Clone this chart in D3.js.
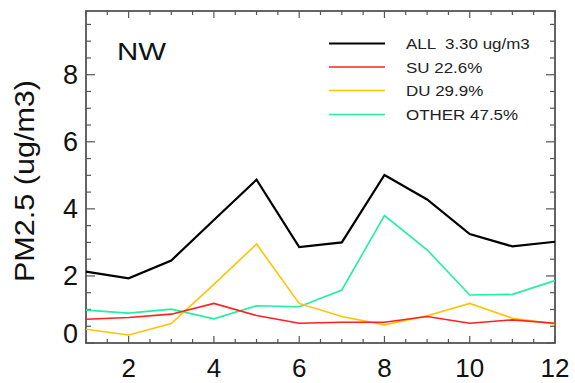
<!DOCTYPE html>
<html>
<head>
<meta charset="utf-8">
<script src="https://cdn.jsdelivr.net/npm/d3@7"></script>
<style>
  body { margin: 0; background: #fff; }
  svg { font-family: "Liberation Sans", Arial, sans-serif; }
</style>
</head>
<body>
<svg id="chart" width="575" height="383"></svg>
<script>
// monthly values
const months = [1, 2, 3, 4, 5, 6, 7, 8, 9, 10, 11, 12];
const allValues = [2.13, 1.93, 2.46, 3.67, 4.87, 2.86, 3.0, 5.01, 4.28, 3.25, 2.88, 3.02];
const suValues = [0.71, 0.76, 0.86, 1.18, 0.82, 0.59, 0.62, 0.62, 0.79, 0.59, 0.69, 0.59];
const duValues = [0.41, 0.24, 0.58, 1.75, 2.95, 1.18, 0.79, 0.54, 0.81, 1.18, 0.74, 0.57];
const otherValues = [0.98, 0.89, 1.01, 0.72, 1.11, 1.08, 1.58, 3.8, 2.78, 1.43, 1.45, 1.86];
const seriesNames = ["ALL  3.30 ug/m3", "SU 22.6%", "DU 29.9%", "OTHER 47.5%"];
const xTicks = [2, 4, 6, 8, 10, 12];
const yTicks = [0, 2, 4, 6, 8];

const series = [
  { name: seriesNames[0], values: allValues, color: "#000000", width: 2.2 },
  { name: seriesNames[1], values: suValues, color: "#ff2020", width: 1.6 },
  { name: seriesNames[2], values: duValues, color: "#ffc400", width: 1.6 },
  { name: seriesNames[3], values: otherValues, color: "#22f0a0", width: 1.6 }
];

const plotLeft = 86, plotRight = 555, plotTop = 11, plotBottom = 343;
const svg = d3.select("#chart");

const x = d3.scaleLinear().domain([1, 12]).range([plotLeft, plotRight]);
const y = d3.scaleLinear().domain([0, 9.9]).range([plotBottom, plotTop]);

const frame = "#555";

// minor ticks every 0.5
const xMinor = d3.range(1, 12.01, 0.5);
const yMinor = d3.range(0, 9.9, 0.5);

const axisG = svg.append("g").attr("stroke", frame).attr("stroke-width", 1.2);

axisG.selectAll(".xb").data(xMinor).enter().append("line")
  .attr("x1", d => x(d)).attr("x2", d => x(d))
  .attr("y1", plotBottom).attr("y2", d => plotBottom - (d % 2 === 0 ? 7 : 4));
axisG.selectAll(".xt").data(xMinor).enter().append("line")
  .attr("x1", d => x(d)).attr("x2", d => x(d))
  .attr("y1", plotTop).attr("y2", d => plotTop + (d % 2 === 0 ? 7 : 4));
axisG.selectAll(".yl").data(yMinor).enter().append("line")
  .attr("y1", d => y(d)).attr("y2", d => y(d))
  .attr("x1", plotLeft).attr("x2", d => plotLeft + (d % 2 === 0 ? 9 : 5));
axisG.selectAll(".yr").data(yMinor).enter().append("line")
  .attr("y1", d => y(d)).attr("y2", d => y(d))
  .attr("x1", plotRight).attr("x2", d => plotRight - (d % 2 === 0 ? 9 : 5));

svg.append("rect")
  .attr("x", plotLeft).attr("y", plotTop)
  .attr("width", plotRight - plotLeft).attr("height", plotBottom - plotTop)
  .attr("fill", "none").attr("stroke", frame).attr("stroke-width", 1.8);

// tick labels
svg.selectAll(".xlab").data(xTicks).enter().append("text")
  .attr("x", d => x(d)).attr("y", 377)
  .attr("text-anchor", "middle")
  .attr("font-size", 26).attr("fill", "#111")
  .text(d => d);

svg.selectAll(".ylab").data(yTicks).enter().append("text")
  .attr("x", 78).attr("y", d => y(d) + (d === 0 ? 0 : 9.5))
  .attr("text-anchor", "end")
  .attr("font-size", 27).attr("fill", "#111")
  .text(d => d);

svg.append("text")
  .attr("transform", "translate(34,181) rotate(-90)")
  .attr("text-anchor", "middle")
  .attr("font-size", 27).attr("fill", "#111")
  .attr("textLength", 202).attr("lengthAdjust", "spacingAndGlyphs")
  .text("PM2.5 (ug/m3)");

svg.append("text")
  .attr("x", 117).attr("y", 60)
  .attr("font-size", 24).attr("fill", "#111")
  .attr("textLength", 49).attr("lengthAdjust", "spacingAndGlyphs")
  .text("NW");

// lines
const line = d3.line().x((d, i) => x(months[i])).y(d => y(d));

svg.selectAll(".series").data(series.slice().reverse()).enter().append("path")
  .attr("d", d => line(d.values))
  .attr("fill", "none")
  .attr("stroke", d => d.color)
  .attr("stroke-width", d => d.width)
  .attr("stroke-linejoin", "miter");

// legend
const legY = [43.5, 67, 90.5, 114.5];
const leg = svg.selectAll(".leg").data(series).enter().append("g");
leg.append("line")
  .attr("x1", 329).attr("x2", 385)
  .attr("y1", (d, i) => legY[i]).attr("y2", (d, i) => legY[i])
  .attr("stroke", d => d.color).attr("stroke-width", d => d.width);
leg.append("text")
  .attr("x", 406).attr("y", (d, i) => legY[i] + 5.5)
  .attr("font-size", 15).attr("fill", "#222")
  .attr("xml:space", "preserve")
  .text(d => d.name)
  .each(function () {
    // the reference text is a little wider than the font
    const w = this.getComputedTextLength();
    d3.select(this).attr("textLength", w * 1.13).attr("lengthAdjust", "spacingAndGlyphs");
  });
</script>
</body>
</html>
